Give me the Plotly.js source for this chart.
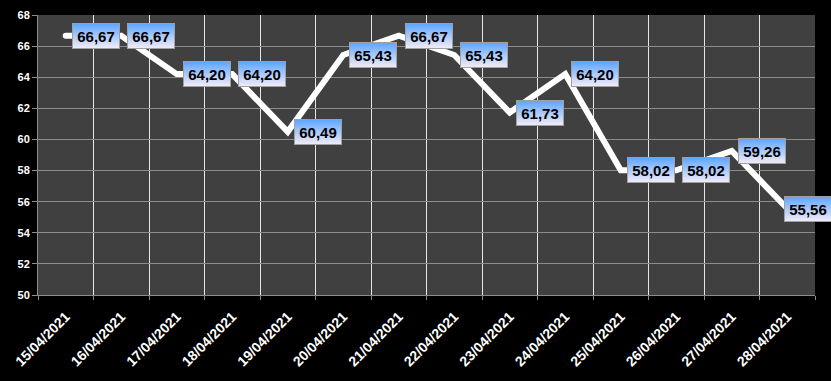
<!DOCTYPE html>
<html>
<head>
<meta charset="utf-8">
<script src="https://cdn.plot.ly/plotly-3.0.1.min.js"></script>
<style>
html,body{margin:0;padding:0;background:#000;}
#chart{width:831px;height:381px;}
</style>
</head>
<body>
<div id="chart"></div>
<script>
const dates = ['15/04/2021','16/04/2021','17/04/2021','18/04/2021','19/04/2021','20/04/2021','21/04/2021','22/04/2021','23/04/2021','24/04/2021','25/04/2021','26/04/2021','27/04/2021','28/04/2021'];
const values = [66.67, 66.67, 64.20, 64.20, 60.49, 65.43, 66.67, 65.43, 61.73, 64.20, 58.02, 58.02, 59.26, 55.56];
const yTicks = [50, 52, 54, 56, 58, 60, 62, 64, 66, 68];

const fmt = v => v.toFixed(2).replace('.', ',');

const trace = {
  type: 'scatter',
  mode: 'lines',
  x: dates,
  y: values,
  line: {color: '#ffffff', width: 6},
  hoverinfo: 'skip'
};

const annotations = dates.map((d, i) => ({
  x: d, y: values[i], xref: 'x', yref: 'y',
  text: fmt(values[i]),
  showarrow: false,
  xanchor: 'left', yanchor: 'middle',
  xshift: i === dates.length - 1 ? -3 : 6,
  font: {family: 'Liberation Sans, Arial, sans-serif', size: 15, color: '#000000', weight: 'bold'},
  bgcolor: '#a8c8f8',
  bordercolor: '#a0a0a0',
  borderwidth: 1,
  borderpad: 3,
  width: 40,
  height: 18,
  align: 'center',
  valign: 'middle'
}));

const layout = {
  width: 831, height: 381,
  paper_bgcolor: '#000000',
  plot_bgcolor: '#404040',
  margin: {l: 38, r: 16, t: 15, b: 86, pad: 0},
  showlegend: false,
  font: {family: 'Liberation Sans, Arial, sans-serif', color: '#ffffff'},
  xaxis: {
    type: 'category',
    tickson: 'boundaries',
    showgrid: true,
    gridcolor: '#e6e6e6',
    gridwidth: 1,
    showline: true,
    linecolor: '#8c8c8c',
    linewidth: 1,
    ticks: 'outside',
    ticklen: 4,
    tickcolor: '#8c8c8c',
    tickangle: -45,
    ticklabelstandoff: 7,
    tickfont: {size: 14, color: '#ffffff', weight: 'bold'},
    range: [-0.5, dates.length - 0.5],
    fixedrange: true
  },
  yaxis: {
    range: [50, 68],
    tickvals: yTicks,
    ticktext: yTicks.map(String),
    showgrid: true,
    gridcolor: '#8c8c8c',
    gridwidth: 1,
    zeroline: false,
    showline: true,
    linecolor: '#8c8c8c',
    linewidth: 1,
    ticks: 'outside',
    ticklen: 5,
    tickcolor: '#8c8c8c',
    tickfont: {size: 11, color: '#ffffff', weight: 'bold'},
    fixedrange: true
  },
  annotations: annotations
};

Plotly.newPlot('chart', [trace], layout, {displayModeBar: false, staticPlot: true}).then(gd => {
  const svg = gd.querySelector('svg.main-svg');
  const ns = 'http://www.w3.org/2000/svg';
  let defs = svg.querySelector('defs');
  if (!defs) { defs = document.createElementNS(ns, 'defs'); svg.insertBefore(defs, svg.firstChild); }
  const grad = document.createElementNS(ns, 'linearGradient');
  grad.setAttribute('id', 'lblgrad');
  grad.setAttribute('x1', '0'); grad.setAttribute('y1', '0');
  grad.setAttribute('x2', '0'); grad.setAttribute('y2', '1');
  [['0', '#5aa4ff'], ['0.5', '#a9c9fb'], ['1', '#f4ecf6']].forEach(([o, c]) => {
    const s = document.createElementNS(ns, 'stop');
    s.setAttribute('offset', o); s.setAttribute('stop-color', c);
    grad.appendChild(s);
  });
  defs.appendChild(grad);
  gd.querySelectorAll('.annotation rect.bg').forEach(r => { r.style.fill = 'url(#lblgrad)'; });
  gd.querySelectorAll('.scatterlayer path.js-line').forEach(p => {
    p.style.strokeLinecap = 'round'; p.style.strokeLinejoin = 'miter';
  });
});
</script>
</body>
</html>
